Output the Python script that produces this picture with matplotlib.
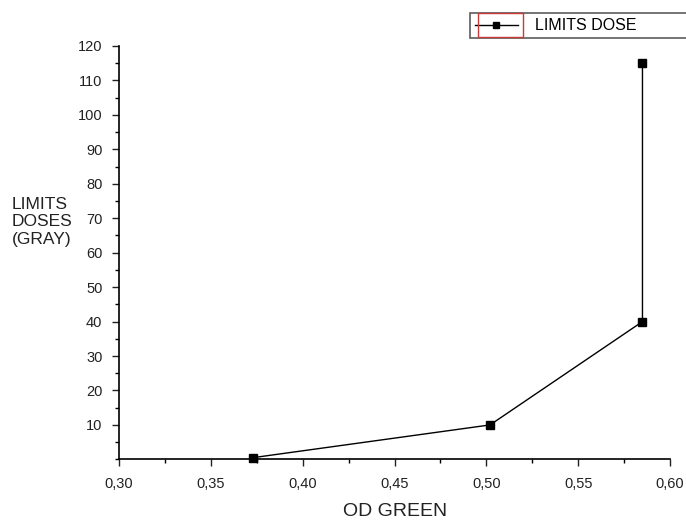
import matplotlib
matplotlib.use("Agg")
import matplotlib.pyplot as plt
from matplotlib.ticker import MultipleLocator, FuncFormatter
from matplotlib.patches import Rectangle

od_green = [0.373, 0.502, 0.585, 0.585]
limits_dose = [0.5, 10, 40, 115]
series_label = "LIMITS DOSE"
x_ticks = [0.30, 0.35, 0.40, 0.45, 0.50, 0.55, 0.60]
y_ticks = [10, 20, 30, 40, 50, 60, 70, 80, 90, 100, 110, 120]

plt.rcParams['font.family'] = ['Liberation Sans', 'DejaVu Sans']

W, H = 686, 525
fig = plt.figure(figsize=(6.86, 5.25), dpi=100)
ax = fig.add_axes([0.1735, 0.125, 0.9767 - 0.1735, 0.7874])

ax.plot(od_green, limits_dose, color='black', lw=1.0, marker='s', ms=6,
        mfc='black', mec='black', label=series_label, clip_on=False, zorder=3)

ax.set_xlim(0.30, 0.60)
ax.set_ylim(0, 120)
ax.set_xticks(x_ticks)
ax.set_yticks(y_ticks)
ax.xaxis.set_minor_locator(MultipleLocator(0.025))
ax.yaxis.set_minor_locator(MultipleLocator(5))
ax.xaxis.set_major_formatter(FuncFormatter(lambda v, p: f"{v:.2f}".replace('.', ',')))
ax.yaxis.set_major_formatter(FuncFormatter(lambda v, p: f"{v:.0f}"))

for s in ['top', 'right']:
    ax.spines[s].set_visible(False)
for s in ['left', 'bottom']:
    ax.spines[s].set_linewidth(1.2)

ax.tick_params(axis='both', which='major', direction='out', length=5, width=1.0,
               labelsize=10.5, colors='#222222', pad=7)
ax.tick_params(axis='both', which='minor', direction='out', length=3, width=1.0)
ax.tick_params(axis='x', pad=8)

fig.text(12 / W, 1 - 222 / H, "LIMITS\nDOSES\n(GRAY)", fontsize=12.5, ha='left', va='center',
         linespacing=1.2, color='#222222')
fig.text(395 / W, 1 - 512 / H, "OD GREEN", fontsize=14, ha='center', va='center',
         color='#222222')

x0, x1 = 470 / W, 700 / W
y0, y1 = 1 - 38 / H, 1 - 12 / H
leg = ax.legend(loc='lower left', bbox_to_anchor=(x0, y0, x1 - x0, y1 - y0),
                bbox_transform=fig.transFigure, mode='expand',
                frameon=True, fancybox=False, edgecolor='#333333', fontsize=11.5,
                handlelength=2.7, borderpad=0.3, borderaxespad=0,
                handletextpad=1.1)
leg.get_frame().set_linewidth(1.2)
for h in leg.legend_handles:
    h.set_markersize(5)

fig.patches.append(Rectangle((478 / W, 1 - 37 / H), 45 / W, 24 / H, transform=fig.transFigure,
                             fill=False, edgecolor='#c83a3a', lw=1.0, zorder=10))

fig.savefig("out.png", dpi=100, facecolor='white')
